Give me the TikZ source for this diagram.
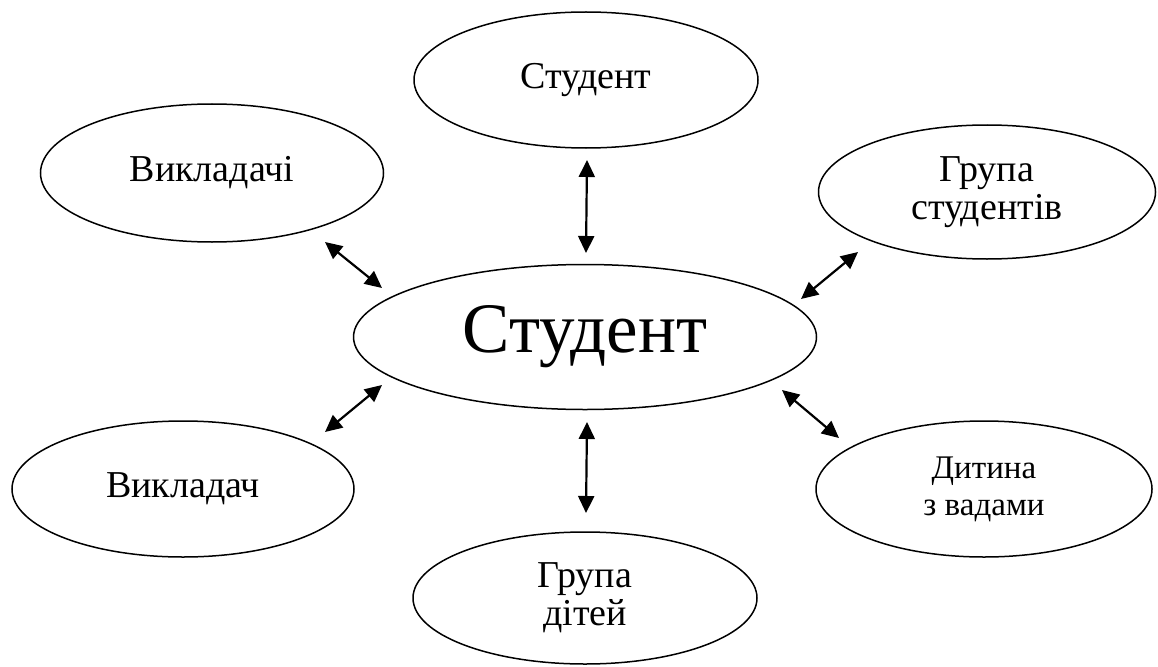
\documentclass[tikz,border=0pt]{standalone}
\usepackage{fontspec}
\setmainfont{Liberation Serif}
\usetikzlibrary{shapes.geometric,arrows.meta}
\begin{document}
\begin{tikzpicture}[x=1pt,y=-1pt,
  ell/.style={draw=black,line width=1.5pt,ellipse,inner sep=0pt,align=center,
    font=\fontsize{38}{38}\selectfont},
  link/.style={line width=2.2pt,{Triangle[length=17pt,width=16pt]}-{Triangle[length=17pt,width=16pt]}}]
\useasboundingbox (0,0) rectangle (1158,666);
\node[ell,minimum width=344pt,minimum height=136pt] (top) at (586,80) {Студент};
\node[ell,minimum width=343pt,minimum height=138pt] (vykl) at (212,173) {Викладачі};
\node[ell,minimum width=337pt,minimum height=134pt] (grst) at (987,192) {Група\\студентів};
\node[ell,minimum width=463pt,minimum height=145pt,font=\fontsize{71}{72}\selectfont] (c) at (585,337) {Студент};
\node[ell,minimum width=342pt,minimum height=136pt] (vyk) at (183,489) {Викладач};
\node[ell,minimum width=336pt,minimum height=136pt,font=\fontsize{33}{37}\selectfont] (dyt) at (984,489) {Дитина\\з вадами};
\node[ell,minimum width=344pt,minimum height=132pt] (grd) at (585,598) {Група\\дітей};
\coordinate (a1) at (587,160); \coordinate (b1) at (586,253);
\coordinate (a2) at (325,242); \coordinate (b2) at (382,288);
\coordinate (a3) at (858,252); \coordinate (b3) at (801,299);
\coordinate (a4) at (325,432); \coordinate (b4) at (382,385);
\coordinate (a5) at (782,390); \coordinate (b5) at (839,438);
\coordinate (a6) at (587,422); \coordinate (b6) at (586,513);
\draw[link] (a1) -- (b1);
\draw[link] (a2) -- (b2);
\draw[link] (a3) -- (b3);
\draw[link] (a4) -- (b4);
\draw[link] (a5) -- (b5);
\draw[link] (a6) -- (b6);
\end{tikzpicture}
\end{document}
